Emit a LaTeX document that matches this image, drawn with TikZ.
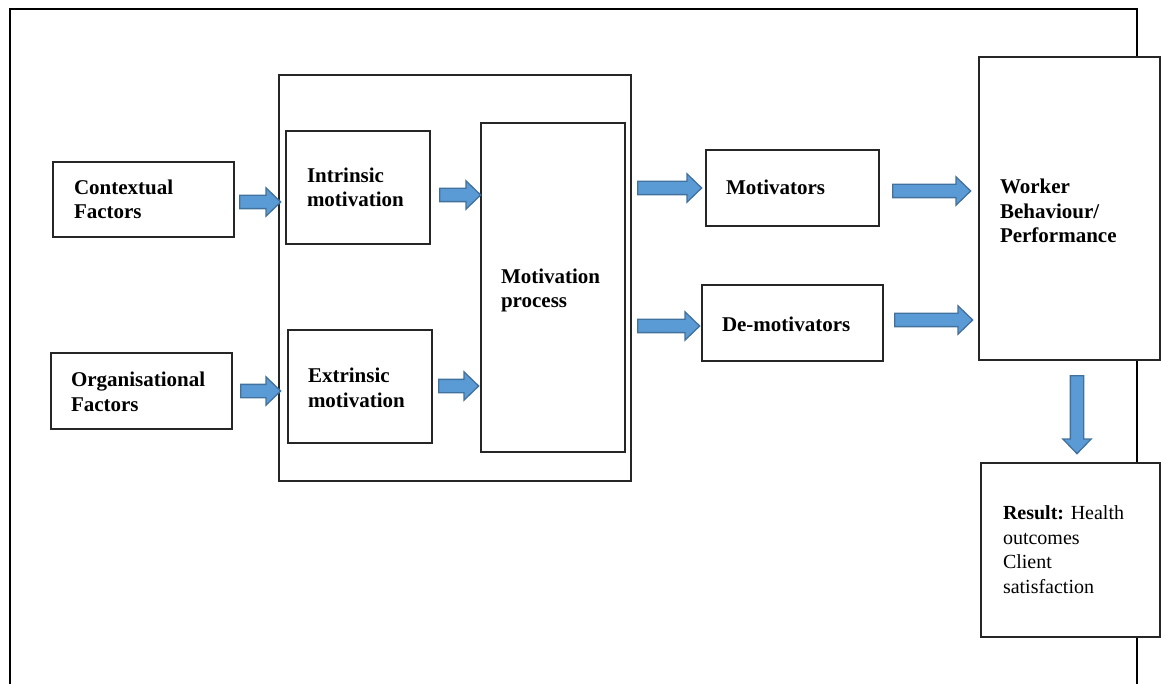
\documentclass[tikz,border=0pt]{standalone}
\usepackage{fontspec}
\setmainfont{Liberation Serif}
\usetikzlibrary{shapes.arrows}
\definecolor{arrowfill}{HTML}{5B9BD5}
\definecolor{arrowline}{HTML}{41719C}
\begin{document}
\begin{tikzpicture}[x=1pt,y=-1pt,
  box/.style={draw=black!85,line width=1.2pt,fill=white,inner sep=0pt,outer sep=0pt,anchor=north west},
  txt/.style={inner sep=0pt,outer sep=0pt,anchor=base west,align=left,font=\fontsize{21}{24.5}\selectfont\bfseries},
  rtxt/.style={inner sep=0pt,outer sep=0pt,anchor=base west,align=left,font=\fontsize{20}{24.5}\selectfont},
  barrow/.style={single arrow,draw=arrowline,fill=arrowfill,line width=1.3pt,inner sep=6pt,
    minimum width=27pt,single arrow head extend=7.5pt,single arrow tip angle=88,anchor=west},
]
\useasboundingbox (0,0) rectangle (1161,684);
% outer frame
\coordinate (fbl) at (10,684);
\coordinate (ftl) at (10,9);
\coordinate (ftr) at (1137,9);
\coordinate (fbr) at (1137,684);
\draw[line width=1.8pt,black] (fbl) -- (ftl) -- (ftr) -- (fbr);
% boxes
\node[box,minimum width=181pt,minimum height=75pt] (ctx) at (53,162) {};
\node[box,minimum width=181pt,minimum height=76pt] (org) at (51,353) {};
\node[box,minimum width=352pt,minimum height=406pt] (grp) at (279,75) {};
\node[box,minimum width=144pt,minimum height=113pt] (intr) at (286,131) {};
\node[box,minimum width=144pt,minimum height=113pt] (extr) at (288,330) {};
\node[box,minimum width=144pt,minimum height=329pt] (proc) at (481,123) {};
\node[box,minimum width=173pt,minimum height=76pt] (mot) at (706,150) {};
\node[box,minimum width=181pt,minimum height=76pt] (demot) at (702,285) {};
\node[box,minimum width=181pt,minimum height=303pt] (work) at (979,57) {};
\node[box,minimum width=179pt,minimum height=174pt] (res) at (981,463) {};
% texts (anchor = baseline of the last line)
\node[txt] (tctx) at (74,219) {Contextual\\Factors};
\node[txt] (torg) at (71,411) {Organisational\\Factors};
\node[txt] (tintr) at (307,207) {Intrinsic\\motivation};
\node[txt] (textr) at (308,407) {Extrinsic\\motivation};
\node[txt] (tproc) at (501,308) {Motivation\\process};
\node[txt] (tmot) at (726,195) {Motivators};
\node[txt] (tdemot) at (722,331) {De-motivators};
\node[txt] (twork) at (1000,243) {Worker\\Behaviour/\\Performance};
\node[rtxt] (tres) at (1003,593) {\textbf{Result:} Health\\outcomes\\Client\\satisfaction};
% block arrows
\node[barrow,minimum height=41pt] (a1) at (239,202) {};
\node[barrow,minimum height=41pt] (a2) at (439,195) {};
\node[barrow,minimum height=40pt] (a3) at (240,391) {};
\node[barrow,minimum height=40pt] (a4) at (438,386) {};
\node[barrow,minimum height=64pt] (a5) at (637,188) {};
\node[barrow,minimum height=78pt] (a6) at (892,191) {};
\node[barrow,minimum height=62pt] (a7) at (637,326) {};
\node[barrow,minimum height=78pt] (a8) at (894,320) {};
\node[barrow,minimum height=78pt,shape border rotate=270,anchor=north] (a9) at (1077,375) {};
\end{tikzpicture}
\end{document}
